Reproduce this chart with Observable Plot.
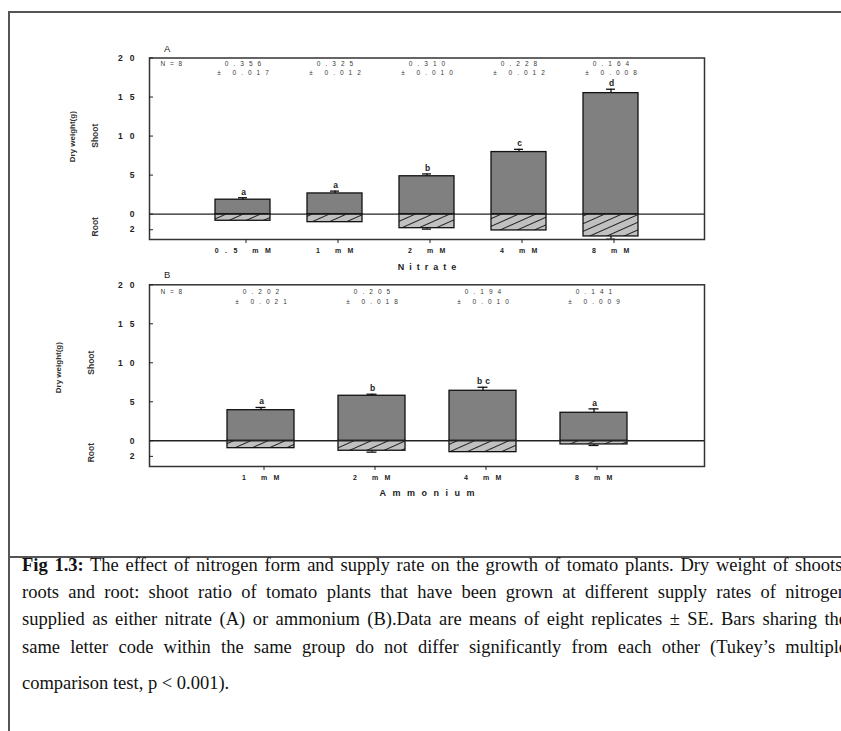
<!DOCTYPE html>
<html>
<head>
<meta charset="utf-8">
<script src="https://cdn.jsdelivr.net/npm/d3@7"></script>
<script src="https://cdn.jsdelivr.net/npm/@observablehq/plot@0.6"></script>
<style>
  body { margin: 0; background: #fff; }
  #page { position: relative; width: 841px; height: 731px; overflow: hidden; background: #fff; font-family: Arial, "Liberation Sans", sans-serif; }
  .bl { position: absolute; background: #555; }
  .panel { position: absolute; left: 0; }
  #caption { position: absolute; left: 22px; top: 551.5px; width: 825px; font-family: "Times New Roman", "Liberation Serif", serif; font-size: 18.5px; color: #111; }
  #caption .ln { height: 27.4px; line-height: 27.4px; white-space: nowrap; text-align: justify; text-align-last: justify; }
  #caption .ln.last { text-align-last: left; margin-top: 8.5px; }
</style>
</head>
<body>
<svg width="0" height="0" style="position:absolute">
  <defs>
    <pattern id="hatch" patternUnits="userSpaceOnUse" width="7" height="7" patternTransform="rotate(-24)">
      <rect width="7" height="7" fill="#c0c0c0"></rect>
      <line x1="0" y1="0.5" x2="7" y2="0.5" stroke="#222" stroke-width="1"></line>
    </pattern>
  </defs>
</svg>
<div id="page">
  <div class="bl" style="left:8px;top:11px;width:1.5px;height:720px;"></div>
  <div class="bl" style="left:8px;top:11px;width:833px;height:1.5px;"></div>
  <div class="bl" style="left:8px;top:556px;width:833px;height:1.5px;"></div>
  <div class="panel" id="panelA" style="top:0px;"></div>
  <div class="panel" id="panelB" style="top:230px;"></div>
  <div id="caption">
    <div class="ln"><b>Fig 1.3:</b> The effect of nitrogen form and supply rate on the growth of tomato plants. Dry weight of shoots,</div>
    <div class="ln">roots and root: shoot ratio of tomato plants that have been grown at different supply rates of nitrogen</div>
    <div class="ln">supplied as either nitrate (A) or ammonium (B).Data are means of eight replicates ± SE. Bars sharing the</div>
    <div class="ln">same letter code within the same group do not differ significantly from each other (Tukey’s multiple</div>
    <div class="ln last">comparison test, p &lt; 0.001).</div>
  </div>
</div>
<script>
// ---------- data ----------
const yTicks = [-2, 0, 5, 10, 15, 20];
const nLabel = "N = 8";
const yTitle = "Dry weight(g)";
const shootLabel = "Shoot";
const rootLabel = "Root";

// Panel A: nitrate
const nitrateCats = ["0.5 mM", "1 mM", "2 mM", "4 mM", "8 mM"];
const nitrateShoot = [1.85, 2.65, 4.85, 7.95, 15.5];
const nitrateShootSE = [0.25, 0.3, 0.3, 0.35, 0.5];
const nitrateRoot = [0.85, 1.03, 1.8, 2.09, 2.86];
const nitrateRootSE = [0, 0, 0.12, 0, 0.35];
const nitrateLetters = ["a", "a", "b", "c", "d"];
const nitrateRatio = ["0.356", "0.325", "0.310", "0.228", "0.164"];
const nitrateRatioSE = ["0.017", "0.012", "0.010", "0.012", "0.008"];

// Panel B: ammonium
const ammoniumCats = ["1 mM", "2 mM", "4 mM", "8 mM"];
const ammoniumShoot = [3.92, 5.77, 6.41, 3.59];
const ammoniumShootSE = [0.35, 0.2, 0.45, 0.5];
const ammoniumRoot = [0.95, 1.28, 1.46, 0.47];
const ammoniumRootSE = [0, 0.18, 0, 0.13];
const ammoniumLetters = ["a", "b", "bc", "a"];
const ammoniumRatio = ["0.202", "0.205", "0.194", "0.141"];
const ammoniumRatioSE = ["0.021", "0.018", "0.010", "0.009"];

// ---------- drawing ----------
function buildPanel(cfg) {
  const rows = cfg.cats.map((c, i) => ({
    cat: c, shoot: cfg.shoot[i], shootSE: cfg.shootSE[i],
    root: cfg.root[i], rootSE: cfg.rootSE[i], letter: cfg.letters[i],
    ratio: cfg.ratio[i], ratioSE: "\u00b1 " + cfg.ratioSE[i]
  }));
  const rootErr = rows.filter(d => d.rootSE > 0);
  const ink = "#111";
  const sw = 1.3;
  const rot = { frameAnchor: "left", text: d => d, rotate: -90, textAnchor: "middle", lineAnchor: "middle", fontWeight: "bold", fill: "#333" };
  const plot = Plot.plot({
    width: 841, height: 280,
    marginLeft: 149, marginRight: 137,
    marginTop: cfg.marginTop, marginBottom: cfg.marginBottom,
    style: { background: "none", overflow: "visible", color: "#222", fontFamily: "Arial, 'Liberation Sans', sans-serif" },
    x: { type: "band", domain: cfg.cats, paddingInner: 0.4, paddingOuter: 0.7 },
    y: { domain: [cfg.yMin, 20] },
    marks: [
      Plot.barY(rows, { x: "cat", y1: 0, y2: d => -d.root, fill: "url(#hatch)", stroke: ink, strokeWidth: sw }),
      Plot.ruleX(rootErr, { x: "cat", y1: d => -d.root, y2: d => -d.root - d.rootSE, stroke: ink, strokeWidth: sw }),
      Plot.tickY(rootErr, { x: "cat", y: d => -d.root - d.rootSE, insetLeft: cfg.capInset, insetRight: cfg.capInset, stroke: ink, strokeWidth: sw }),
      Plot.barY(rows, { x: "cat", y1: 0, y2: "shoot", fill: "#808080", stroke: ink, strokeWidth: sw }),
      Plot.ruleX(rows, { x: "cat", y1: "shoot", y2: d => d.shoot + d.shootSE, stroke: ink, strokeWidth: sw }),
      Plot.tickY(rows, { x: "cat", y: d => d.shoot + d.shootSE, insetLeft: cfg.capInset, insetRight: cfg.capInset, stroke: ink, strokeWidth: sw }),
      Plot.ruleY([0], { stroke: "#222", strokeWidth: sw }),
      Plot.frame({ stroke: "#333", strokeWidth: 1.5 }),
      Plot.axisY({ ticks: yTicks, tickSize: -4, tickFormat: () => "", label: null }),
      Plot.axisY({ ticks: yTicks, tickSize: 0, tickPadding: 8, tickFormat: d => String(Math.abs(d)), label: null, fontSize: 8.5, fontWeight: "bold" }),
      Plot.axisX({ tickSize: 4, tickPadding: 5, label: null, fontSize: 7, fontWeight: "bold", dx: 3 }),
      Plot.text(rows, { x: "cat", y: d => d.shoot + d.shootSE, text: "letter", lineAnchor: "bottom", dy: -3, dx: 2, fontSize: 8.5, fontWeight: "bold", ariaDescription: "letters" }),
      Plot.text(rows, { x: "cat", frameAnchor: "top", lineAnchor: "middle", text: "ratio", dy: cfg.ratioDy, dx: 2.5, fontSize: 6.5, fill: "#3a3a3a", ariaDescription: "ratio" }),
      Plot.text(rows, { x: "cat", frameAnchor: "top", lineAnchor: "middle", text: "ratioSE", dy: cfg.ratioDy + 9.5, dx: 2.5, fontSize: 6.5, fill: "#3a3a3a", ariaDescription: "ratio" }),
      Plot.text([nLabel], { frameAnchor: "top-left", lineAnchor: "middle", text: d => d, textAnchor: "start", dx: 11, dy: cfg.ratioDy, fontSize: 6.5, fill: "#3a3a3a", ariaDescription: "nlabel" }),
      Plot.text([cfg.panel], { frameAnchor: "top-left", lineAnchor: "middle", textAnchor: "middle", text: d => d, dx: 17.7, dy: -9.5, fontSize: 9.5 }),
      Plot.text([cfg.axisTitle], { frameAnchor: "bottom", lineAnchor: "middle", text: d => d, dy: cfg.titleDy, dx: cfg.titleLs / 2, fontSize: 9, fontWeight: "bold", ariaDescription: "xtitle" }),
      Plot.text([yTitle], { ...rot, dx: cfg.dryDx, dy: cfg.dryDy, fontSize: 8 }),
      Plot.text([shootLabel], { ...rot, dx: cfg.labDx, dy: cfg.shootDy, fontSize: 8.5 }),
      Plot.text([rootLabel], { ...rot, dx: cfg.labDx, dy: cfg.rootDy, fontSize: 8.5 })
    ]
  });
  const s = d3.select(plot);
  s.selectAll('g[aria-label="y-axis tick label"] text').style("letter-spacing", "7px");
  s.selectAll('g[aria-label="x-axis tick label"] text').style("letter-spacing", "6.5px");
  s.selectAll('g[aria-description="ratio"] text').style("letter-spacing", "5px");
  s.selectAll('g[aria-description="nlabel"] text').style("letter-spacing", "1.5px");
  s.selectAll('g[aria-description="letters"] text').style("letter-spacing", "3px");
  s.selectAll('g[aria-description="xtitle"] text').style("letter-spacing", cfg.titleLs + "px");
  document.getElementById(cfg.target).appendChild(plot);
}

buildPanel({
  target: "panelA", panel: "A", axisTitle: "Nitrate",
  cats: nitrateCats, shoot: nitrateShoot, shootSE: nitrateShootSE,
  root: nitrateRoot, rootSE: nitrateRootSE, letters: nitrateLetters,
  ratio: nitrateRatio, ratioSE: nitrateRatioSE,
  marginTop: 57.5, marginBottom: 41, yMin: -3.25, capInset: 23,
  ratioDy: 5.8, titleLs: 5, titleDy: 27.5, dryDx: -77, dryDy: -12, labDx: -54, shootDy: -13, rootDy: 78
});
buildPanel({
  target: "panelB", panel: "B", axisTitle: "Ammonium",
  cats: ammoniumCats, shoot: ammoniumShoot, shootSE: ammoniumShootSE,
  root: ammoniumRoot, rootSE: ammoniumRootSE, letters: ammoniumLetters,
  ratio: ammoniumRatio, ratioSE: ammoniumRatioSE,
  marginTop: 54.3, marginBottom: 44, yMin: -3.3, capInset: 28.5,
  ratioDy: 7.4, titleLs: 6.5, titleDy: 26.5, dryDx: -91, dryDy: -8, labDx: -58, shootDy: -13, rootDy: 77
});
</script>
</body>
</html>
